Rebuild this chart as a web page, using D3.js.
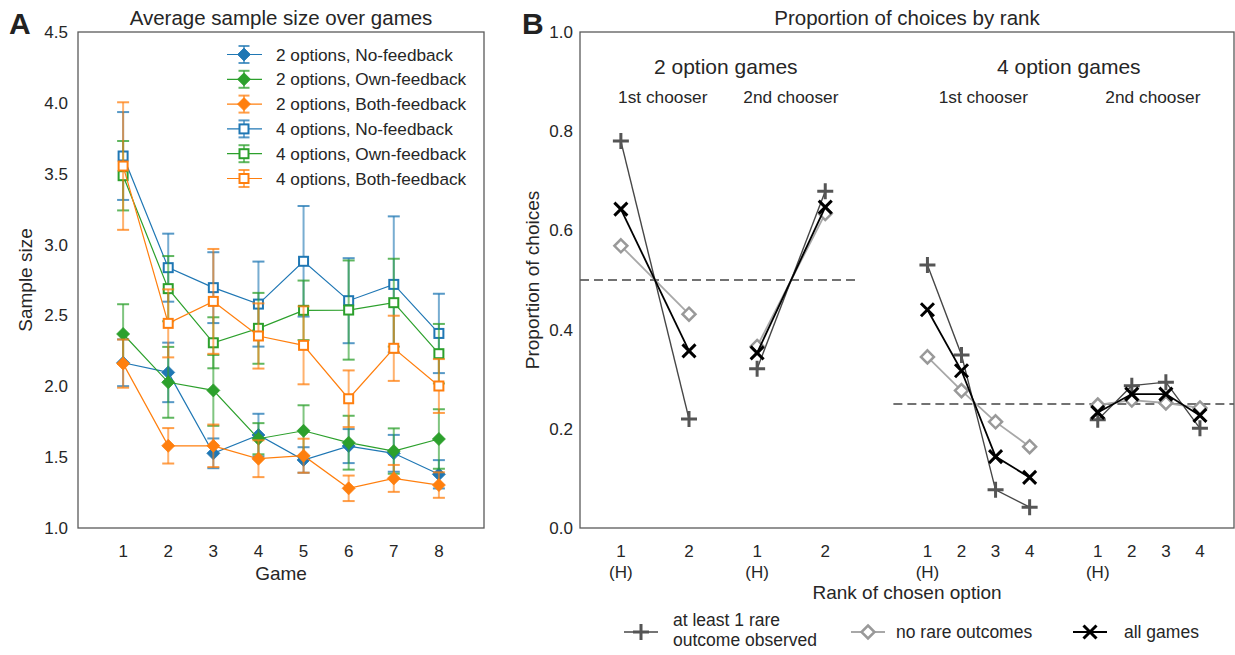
<!DOCTYPE html>
<html>
<head>
<meta charset="utf-8">
<script src="https://cdn.jsdelivr.net/npm/d3@7"></script>
<style>
  body { margin: 0; background: #fff; }
  svg { font-family: "Liberation Sans", Arial, sans-serif; }
</style>
</head>
<body>
<svg id="chart" width="1235" height="655"></svg>
<script>
// ---- Panel A data: average sample size per game ----
const games = [1, 2, 3, 4, 5, 6, 7, 8];
const yTicksA = [1.0, 1.5, 2.0, 2.5, 3.0, 3.5, 4.0, 4.5];
const seriesNames = [
  "2 options, No-feedback", "2 options, Own-feedback", "2 options, Both-feedback",
  "4 options, No-feedback", "4 options, Own-feedback", "4 options, Both-feedback"
];
const twoNoMean   = [2.166, 2.098, 1.527, 1.656, 1.480, 1.578, 1.527, 1.379];
const twoNoErr    = [0.165, 0.21, 0.105, 0.15, 0.09, 0.12, 0.13, 0.10];
const twoOwnMean  = [2.369, 2.028, 1.971, 1.630, 1.686, 1.602, 1.543, 1.628];
const twoOwnErr   = [0.21, 0.25, 0.25, 0.11, 0.18, 0.19, 0.16, 0.21];
const twoBothMean = [2.160, 1.580, 1.580, 1.489, 1.510, 1.280, 1.350, 1.303];
const twoBothErr  = [0.17, 0.125, 0.15, 0.13, 0.12, 0.09, 0.095, 0.09];
const fourNoMean   = [3.625, 2.837, 2.696, 2.580, 2.882, 2.604, 2.719, 2.373];
const fourNoErr    = [0.31, 0.24, 0.25, 0.30, 0.39, 0.30, 0.48, 0.28];
const fourOwnMean  = [3.486, 2.689, 2.307, 2.409, 2.536, 2.538, 2.590, 2.230];
const fourOwnErr   = [0.245, 0.23, 0.18, 0.25, 0.21, 0.35, 0.31, 0.21];
const fourBothMean = [3.554, 2.444, 2.599, 2.355, 2.289, 1.912, 2.268, 2.002];
const fourBothErr  = [0.45, 0.24, 0.37, 0.23, 0.275, 0.20, 0.23, 0.19];

// ---- Panel B data: proportion of choices by rank ----
const groupTitles = ["2 option games", "4 option games"];
const chooserNames = ["1st chooser", "2nd chooser", "1st chooser", "2nd chooser"];
const rankLabels = [["1", "2"], ["1", "2"], ["1", "2", "3", "4"], ["1", "2", "3", "4"]];
const rareObserved = [[0.780, 0.220], [0.321, 0.679], [0.530, 0.349, 0.077, 0.042], [0.218, 0.287, 0.294, 0.201]];
const noRare       = [[0.569, 0.431], [0.366, 0.634], [0.345, 0.277, 0.214, 0.164], [0.248, 0.258, 0.252, 0.242]];
const allGames     = [[0.643, 0.357], [0.353, 0.647], [0.440, 0.317, 0.144, 0.102], [0.233, 0.270, 0.270, 0.227]];
const chanceLevels = [0.5, 0.25];
const yTicksB = [0.0, 0.2, 0.4, 0.6, 0.8, 1.0];
const legendBNames = [["at least 1 rare", "outcome observed"], ["no rare outcomes"], ["all games"]];

const svg = d3.select("#chart");
const blue = "#1f77b4", green = "#2ca02c", orange = "#ff7f0e";
const frameColor = "#5a5a5a", textColor = "#262626";
const tickFont = 17, labelFont = 19, titleFont = 20.5;

// ================= PANEL A =================
const A = { left: 78, right: 484, top: 32, bottom: 528 };
const xA = d3.scaleLinear().domain([0, 9]).range([A.left, A.right]);
const yA = d3.scaleLinear().domain([1, 4.5]).range([A.bottom, A.top]);

const seriesA = [
  { name: seriesNames[0], mean: twoNoMean, err: twoNoErr, color: blue, shape: "diamond" },
  { name: seriesNames[1], mean: twoOwnMean, err: twoOwnErr, color: green, shape: "diamond" },
  { name: seriesNames[2], mean: twoBothMean, err: twoBothErr, color: orange, shape: "diamond" },
  { name: seriesNames[3], mean: fourNoMean, err: fourNoErr, color: blue, shape: "square" },
  { name: seriesNames[4], mean: fourOwnMean, err: fourOwnErr, color: green, shape: "square" },
  { name: seriesNames[5], mean: fourBothMean, err: fourBothErr, color: orange, shape: "square" }
];

const gA = svg.append("g");

function drawMarkerA(g, shape, color, cx, cy) {
  if (shape === "diamond") {
    const r = 6.5;
    g.append("path")
      .attr("d", `M${cx},${cy - r}L${cx + r},${cy}L${cx},${cy + r}L${cx - r},${cy}Z`)
      .attr("fill", color).attr("stroke", color).attr("stroke-width", 0.8);
  } else {
    g.append("rect")
      .attr("x", cx - 4.5).attr("y", cy - 4.5).attr("width", 9).attr("height", 9)
      .attr("fill", "#fff").attr("stroke", color).attr("stroke-width", 2);
  }
}

seriesA.forEach(s => {
  const g = gA.append("g");
  const pts = games.map((gm, i) => ({ x: gm, m: s.mean[i], e: s.err[i] }));
  // error bars
  pts.forEach(p => {
    const cx = xA(p.x);
    g.append("line")
      .attr("x1", cx).attr("x2", cx)
      .attr("y1", yA(p.m - p.e)).attr("y2", yA(p.m + p.e))
      .attr("stroke", s.color).attr("stroke-width", 2).attr("opacity", 0.6);
    [p.m - p.e, p.m + p.e].forEach(v => {
      g.append("line")
        .attr("x1", cx - 6).attr("x2", cx + 6)
        .attr("y1", yA(v)).attr("y2", yA(v))
        .attr("stroke", s.color).attr("stroke-width", 2).attr("opacity", 0.75);
    });
  });
  g.append("path")
    .datum(pts)
    .attr("fill", "none")
    .attr("stroke", s.color)
    .attr("stroke-width", 1.2)
    .attr("d", d3.line().x(d => xA(d.x)).y(d => yA(d.m)));
  pts.forEach(p => drawMarkerA(g, s.shape, s.color, xA(p.x), yA(p.m)));
});

// legend A
const legA = gA.append("g");
seriesA.forEach((s, i) => {
  const y = 54.5 + i * 24.8;
  const g = legA.append("g");
  g.append("line").attr("x1", 227).attr("x2", 262).attr("y1", y).attr("y2", y)
    .attr("stroke", s.color).attr("stroke-width", 1.2);
  g.append("line").attr("x1", 244).attr("x2", 244).attr("y1", y - 8.5).attr("y2", y + 8.5)
    .attr("stroke", s.color).attr("stroke-width", 2).attr("opacity", 0.6);
  [y - 8.5, y + 8.5].forEach(cy => g.append("line")
    .attr("x1", 238.5).attr("x2", 249.5).attr("y1", cy).attr("y2", cy)
    .attr("stroke", s.color).attr("stroke-width", 2).attr("opacity", 0.75));
  drawMarkerA(g, s.shape, s.color, 244, y);
  g.append("text").attr("x", 276).attr("y", y + 6)
    .attr("font-size", 17.2).attr("fill", textColor).text(s.name);
});

// frame and axes A
gA.append("rect")
  .attr("x", A.left).attr("y", A.top)
  .attr("width", A.right - A.left).attr("height", A.bottom - A.top)
  .attr("fill", "none").attr("stroke", frameColor).attr("stroke-width", 1.3);

gA.selectAll(".ytA").data(yTicksA).join("text")
  .attr("x", A.left - 10).attr("y", d => yA(d) + 6)
  .attr("text-anchor", "end").attr("font-size", tickFont).attr("fill", textColor)
  .text(d => d.toFixed(1));

gA.selectAll(".xtA").data(games).join("text")
  .attr("x", d => xA(d)).attr("y", 557)
  .attr("text-anchor", "middle").attr("font-size", tickFont).attr("fill", textColor)
  .text(d => d);

gA.append("text").attr("x", (A.left + A.right) / 2).attr("y", 580)
  .attr("text-anchor", "middle").attr("font-size", labelFont).attr("fill", textColor).text("Game");
gA.append("text")
  .attr("transform", `translate(32,${(A.top + A.bottom) / 2}) rotate(-90)`)
  .attr("text-anchor", "middle").attr("font-size", labelFont).attr("fill", textColor).text("Sample size");
gA.append("text").attr("x", (A.left + A.right) / 2).attr("y", 25)
  .attr("text-anchor", "middle").attr("font-size", titleFont).attr("fill", textColor)
  .text("Average sample size over games");
gA.append("text").attr("x", 9).attr("y", 34)
  .attr("font-size", 30).attr("font-weight", "bold").attr("fill", "#222").text("A");

// ================= PANEL B =================
const B = { left: 580, right: 1234, top: 32, bottom: 528 };
const xB = d3.scaleLinear().domain([-1.2, 18]).range([B.left, B.right]);
const yB = d3.scaleLinear().domain([0, 1]).range([B.bottom, B.top]);

// slot position of each rank on the shared x scale
function slot(group, rank) {
  return group < 2 ? group * 4 + rank * 2 : 9 + (group - 2) * 5 + rank;
}

const gB = svg.append("g");

// chance lines
gB.append("line")
  .attr("x1", xB(-1.2)).attr("x2", xB(7))
  .attr("y1", yB(chanceLevels[0])).attr("y2", yB(chanceLevels[0]))
  .attr("stroke", "#444").attr("stroke-width", 1.3).attr("stroke-dasharray", "9,5");
gB.append("line")
  .attr("x1", xB(8)).attr("x2", xB(18))
  .attr("y1", yB(chanceLevels[1])).attr("y2", yB(chanceLevels[1]))
  .attr("stroke", "#444").attr("stroke-width", 1.3).attr("stroke-dasharray", "9,5");

const styleB = [
  { values: rareObserved, line: "#474747", lw: 1.4, marker: "plus", mc: "#555" },
  { values: noRare, line: "#a8a8a8", lw: 1.8, marker: "diamond", mc: "#999" },
  { values: allGames, line: "#000", lw: 1.8, marker: "x", mc: "#000" }
];

function drawMarkerB(g, type, color, cx, cy) {
  if (type === "plus") {
    const r = 8;
    g.append("path").attr("d", `M${cx - r},${cy}H${cx + r}M${cx},${cy - r}V${cy + r}`)
      .attr("stroke", color).attr("stroke-width", 3).attr("fill", "none");
  } else if (type === "diamond") {
    const r = 6.5;
    g.append("path").attr("d", `M${cx},${cy - r}L${cx + r},${cy}L${cx},${cy + r}L${cx - r},${cy}Z`)
      .attr("stroke", color).attr("stroke-width", 2.5).attr("fill", "#fff");
  } else {
    const r = 6.5;
    g.append("path").attr("d", `M${cx - r},${cy - r}L${cx + r},${cy + r}M${cx - r},${cy + r}L${cx + r},${cy - r}`)
      .attr("stroke", color).attr("stroke-width", 3).attr("fill", "none");
  }
}

styleB.forEach(st => {
  const g = gB.append("g");
  st.values.forEach((vals, gi) => {
    const pts = vals.map((v, r) => ({ x: slot(gi, r), v }));
    g.append("path").datum(pts)
      .attr("fill", "none").attr("stroke", st.line).attr("stroke-width", st.lw)
      .attr("d", d3.line().x(d => xB(d.x)).y(d => yB(d.v)));
    pts.forEach(p => drawMarkerB(g, st.marker, st.mc, xB(p.x), yB(p.v)));
  });
});

// group headers
gB.append("text").attr("x", xB(3.08)).attr("y", 73.5)
  .attr("text-anchor", "middle").attr("font-size", 21).attr("fill", textColor).text(groupTitles[0]);
gB.append("text").attr("x", xB(13.15)).attr("y", 73.5)
  .attr("text-anchor", "middle").attr("font-size", 21).attr("fill", textColor).text(groupTitles[1]);
const chooserPos = [1.23, 4.99, 10.64, 15.62];
chooserNames.forEach((n, i) => {
  gB.append("text").attr("x", xB(chooserPos[i])).attr("y", 102.5)
    .attr("text-anchor", "middle").attr("font-size", 17.3).attr("fill", textColor).text(n);
});

// frame and axes B
gB.append("rect")
  .attr("x", B.left).attr("y", B.top)
  .attr("width", B.right - B.left).attr("height", B.bottom - B.top)
  .attr("fill", "none").attr("stroke", frameColor).attr("stroke-width", 1.3);

gB.selectAll(".ytB").data(yTicksB).join("text")
  .attr("x", B.left - 7).attr("y", d => yB(d) + 6)
  .attr("text-anchor", "end").attr("font-size", tickFont).attr("fill", textColor)
  .text(d => d.toFixed(1));

rankLabels.forEach((labels, gi) => {
  labels.forEach((lab, r) => {
    const cx = xB(slot(gi, r));
    gB.append("text").attr("x", cx).attr("y", 557)
      .attr("text-anchor", "middle").attr("font-size", tickFont).attr("fill", textColor).text(lab);
    if (r === 0) {
      gB.append("text").attr("x", cx).attr("y", 578)
        .attr("text-anchor", "middle").attr("font-size", tickFont).attr("fill", textColor).text("(H)");
    }
  });
});

gB.append("text").attr("x", (B.left + B.right) / 2).attr("y", 599)
  .attr("text-anchor", "middle").attr("font-size", labelFont).attr("fill", textColor).text("Rank of chosen option");
gB.append("text")
  .attr("transform", `translate(539,${(B.top + B.bottom) / 2}) rotate(-90)`)
  .attr("text-anchor", "middle").attr("font-size", labelFont).attr("fill", textColor).text("Proportion of choices");
gB.append("text").attr("x", (B.left + B.right) / 2).attr("y", 25)
  .attr("text-anchor", "middle").attr("font-size", titleFont).attr("fill", textColor)
  .text("Proportion of choices by rank");
gB.append("text").attr("x", 522).attr("y", 34)
  .attr("font-size", 30).attr("font-weight", "bold").attr("fill", "#222").text("B");

// legend B
const legB = [
  { cx: 641, tx: 673 },
  { cx: 868, tx: 896 },
  { cx: 1090, tx: 1124 }
];
styleB.forEach((st, i) => {
  const y = 632;
  const p = legB[i];
  gB.append("line").attr("x1", p.cx - 17).attr("x2", p.cx + 17).attr("y1", y).attr("y2", y)
    .attr("stroke", st.line).attr("stroke-width", st.lw);
  drawMarkerB(gB, st.marker, st.mc, p.cx, y);
  const lines = legendBNames[i];
  lines.forEach((t, k) => {
    const ty = lines.length === 1 ? y + 6 : 626 + k * 20;
    gB.append("text").attr("x", p.tx).attr("y", ty)
      .attr("font-size", 17.5).attr("fill", textColor).text(t);
  });
});
</script>
</body>
</html>
